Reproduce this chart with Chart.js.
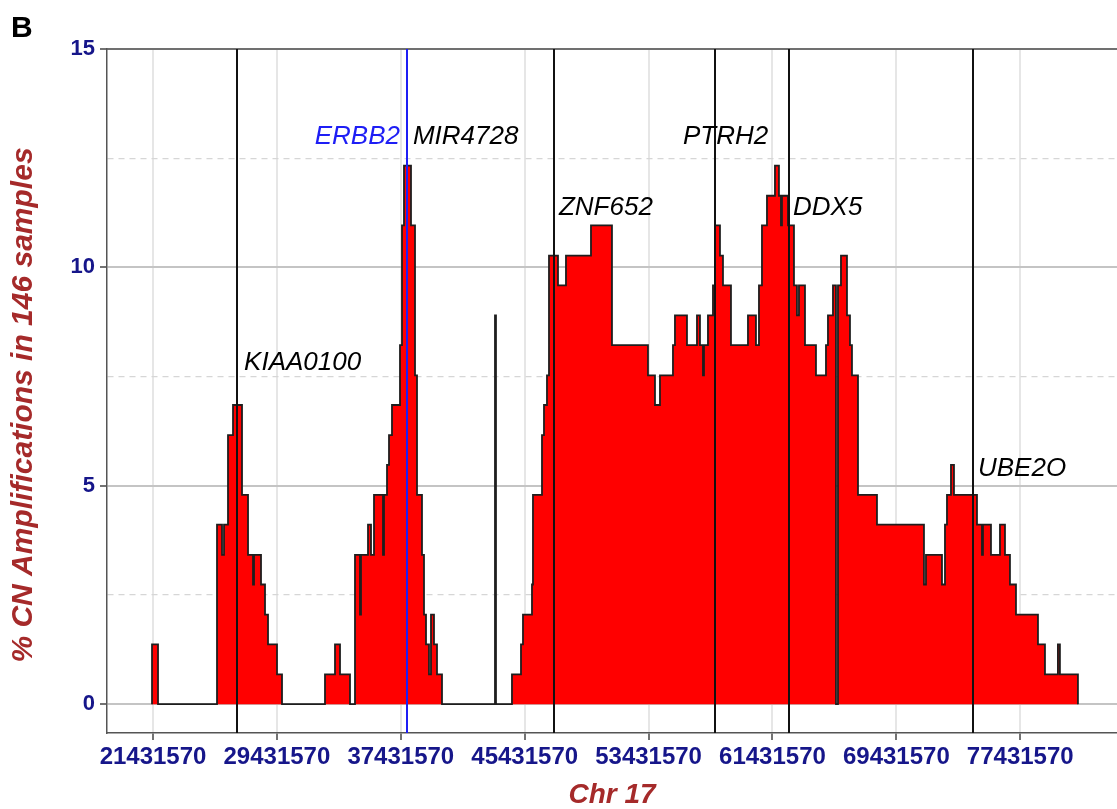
<!DOCTYPE html>
<html>
<head>
<meta charset="utf-8">
<script src="https://cdn.jsdelivr.net/npm/chart.js@4.4.0/dist/chart.umd.min.js"></script>
<style>
  html, body { margin: 0; padding: 0; background: #fff; }
</style>
</head>
<body>
<canvas id="cnChart" width="1117" height="809"></canvas>
<script>
// segment start positions on chr17 (bp); each value holds until the next position
var positions = [
  21367000, 21367000, 21754000,
  25564000, 25887000, 26016000, 26274000, 26597000, 27178000, 27566000, 27888000, 27953000,
  28405000, 28663000, 28857000, 29438000, 29761000,
  32537000, 33183000, 33506000, 34151000,
  34474000, 34797000, 34862000, 35314000, 35508000, 35701000, 36282000, 36347000, 36541000,
  36670000, 36863000, 37380000, 37509000, 37638000, 38090000, 38349000, 38478000, 38800000,
  38930000, 39059000, 39252000, 39381000, 39575000, 39769000, 40092000,
  43514000, 43578000,
  44611000, 45193000, 45322000, 45903000, 45967000, 46549000, 46678000, 46871000, 47001000,
  47582000, 48098000, 49713000, 51068000, 53393000, 53845000, 54168000, 55007000, 55136000,
  55911000, 56557000, 56750000, 56944000, 57009000, 57267000, 57590000, 57719000, 58042000,
  58236000, 58752000, 59850000, 60366000, 60560000, 60754000, 61077000, 61593000, 61851000,
  61980000, 62045000, 62432000, 62820000, 63014000, 63143000, 63531000, 64241000, 64887000,
  65016000, 65339000, 65533000, 65662000, 65856000, 66243000, 66437000, 66566000, 66954000,
  68180000, 71215000, 71345000, 72378000, 72572000, 72701000, 72959000, 73153000, 74638000,
  74960000, 75025000, 75542000, 76123000, 76446000, 76768000, 77156000, 78576000, 79028000,
  79865000, 79994000, 81157000
];
// % of 146 samples with amplification
var amplified = [
  0, 1.37, 0,
  4.11, 3.42, 4.11, 6.16, 6.85, 4.79, 3.42, 2.74, 3.42,
  2.74, 2.05, 1.37, 0.68, 0,
  0.68, 1.37, 0.68, 0,
  3.42, 2.05, 3.42, 4.11, 3.42, 4.79, 3.42, 4.79, 5.48,
  6.16, 6.85, 8.22, 10.96, 12.33, 10.96, 7.53, 4.79, 3.42,
  2.05, 1.37, 0.68, 2.05, 1.37, 0.68, 0,
  8.90, 0,
  0.68, 1.37, 2.05, 2.74, 4.79, 6.16, 6.85, 7.53, 10.27,
  9.59, 10.27, 10.96, 8.22, 7.53, 6.85, 7.53, 8.22, 8.90,
  8.22, 8.90, 8.22, 7.53, 8.22, 8.90, 9.59, 10.96, 10.27,
  9.59, 8.22, 8.90, 8.22, 9.59, 10.96, 11.64, 12.33, 11.64,
  10.96, 11.64, 10.96, 9.59, 8.90, 9.59, 8.22, 7.53, 8.22,
  8.90, 9.59, 0, 9.59, 10.27, 8.90, 8.22, 7.53, 4.79,
  4.11, 2.74, 3.42, 2.74, 4.11, 4.79, 5.48, 4.79, 4.11,
  3.42, 4.11, 3.42, 4.11, 3.42, 2.74, 2.05, 1.37, 0.68,
  1.37, 0.68, 0
];
var xTicks = [21431570, 29431570, 37431570, 45431570, 53431570, 61431570, 69431570, 77431570];
var yTicks = [0, 2.5, 5, 7.5, 10, 12.5, 15];

var geneNames = ["KIAA0100", "ERBB2", "MIR4728", "ZNF652", "PTRH2", "DDX5", "UBE2O"];
var genePos = [26860000, 37830000, 37830000, 47320000, 57720000, 62500000, 74380000];
var geneLabelY = [7.81, 12.98, 12.98, 11.36, 12.98, 11.36, 5.40];

var FONT = '"Liberation Sans", Arial, Helvetica, sans-serif';

var geneLines = {
  id: 'geneLines',
  afterDatasetsDraw: function (chart, args, opts) {
    var ctx = chart.ctx, xs = chart.scales.x, ys = chart.scales.y, area = chart.chartArea;
    ctx.save();
    ctx.strokeStyle = opts.frameColor;
    ctx.lineWidth = 1.5;
    ctx.beginPath();
    ctx.moveTo(area.left, area.top);
    ctx.lineTo(area.right, area.top);
    ctx.stroke();

    // black lines first, highlighted ones on top
    [false, true].forEach(function (hl) {
      geneNames.forEach(function (name, i) {
        if (opts.noLine.indexOf(name) >= 0) return;
        if (!!opts.highlight[name] !== hl) return;
        var px = Math.round(xs.getPixelForValue(genePos[i]));
        ctx.strokeStyle = opts.highlight[name] || opts.lineColor;
        ctx.lineWidth = opts.lineWidth;
        ctx.beginPath();
        ctx.moveTo(px, area.top);
        ctx.lineTo(px, area.bottom);
        ctx.stroke();
      });
    });

    ctx.font = opts.font;
    ctx.textBaseline = 'middle';
    geneNames.forEach(function (name, i) {
      var px = xs.getPixelForValue(genePos[i]) + opts.labelShift[name];
      ctx.textAlign = opts.rightAlign.indexOf(name) >= 0 ? 'right' : 'left';
      ctx.fillStyle = opts.highlight[name] || '#000';
      ctx.fillText(name, px, ys.getPixelForValue(geneLabelY[i]));
    });
    ctx.restore();
  },
  afterDraw: function (chart, args, opts) {
    var ctx = chart.ctx;
    ctx.save();
    ctx.font = 'bold 30px ' + FONT;
    ctx.fillStyle = '#000';
    ctx.textAlign = 'left';
    ctx.textBaseline = 'top';
    ctx.fillText(opts.panel, 11, 14);

    // y axis title, centred a little below the panel middle as in the figure
    ctx.translate(24, 405);
    ctx.rotate(-Math.PI / 2);
    ctx.font = 'bold italic 30px ' + FONT;
    ctx.fillStyle = '#a52a2a';
    ctx.textAlign = 'center';
    ctx.textBaseline = 'middle';
    ctx.fillText(opts.yTitle, 0, 0);
    ctx.restore();
  }
};

var ctx = document.getElementById('cnChart');
var cnChart = new Chart(ctx, {
  type: 'line',
  data: {
    datasets: [{
      data: positions.map(function (p, i) { return { x: p, y: amplified[i] }; }),
      stepped: true,
      fill: 'origin',
      backgroundColor: '#ff0000',
      borderColor: '#1e1e1e',
      borderWidth: 1.8,
      pointRadius: 0,
      tension: 0
    }]
  },
  options: {
    responsive: false,
    animation: false,
    devicePixelRatio: 1,
    layout: { padding: { top: 49, right: 0, bottom: 0, left: 0 } },
    plugins: {
      legend: { display: false },
      tooltip: { enabled: false },
      geneLines: {
        frameColor: '#555',
        lineColor: '#111',
        lineWidth: 2,
        highlight: { ERBB2: '#1e1ef5' },
        noLine: ['MIR4728'],
        rightAlign: ['ERBB2'],
        labelShift: { KIAA0100: 7, ERBB2: -7, MIR4728: 6, ZNF652: 5, PTRH2: -32, DDX5: 4, UBE2O: 5 },
        font: 'italic 26px ' + FONT,
        panel: 'B',
        yTitle: '% CN Amplifications in 146 samples'
      }
    },
    scales: {
      x: {
        type: 'linear',
        min: 18460000,
        max: 83680000,
        afterBuildTicks: function (s) { s.ticks = xTicks.map(function (v) { return { value: v }; }); },
        afterFit: function (s) { s.height = 76; },
        ticks: {
          autoSkip: false,
          maxRotation: 0,
          padding: 3,
          color: '#16168a',
          font: { family: FONT, size: 24, weight: 'bold' },
          callback: function (v) { return String(v); }
        },
        grid: { color: '#e6e6e6', lineWidth: 2, tickColor: '#444', tickLength: 7, tickWidth: 1.5 },
        border: { color: '#555', width: 1.5 },
        title: {
          display: true,
          text: 'Chr 17',
          color: '#a52a2a',
          font: { family: FONT, size: 28, weight: 'bold', style: 'italic', lineHeight: 1 },
          padding: { top: 0, bottom: 0 }
        }
      },
      y: {
        min: -0.66,
        max: 15,
        afterBuildTicks: function (s) { s.ticks = yTicks.map(function (v) { return { value: v }; }); },
        afterFit: function (s) { s.width = 107; },
        ticks: {
          padding: 5,
          color: '#16168a',
          font: { family: FONT, size: 22, weight: 'bold' },
          callback: function (v) { return v % 5 === 0 ? String(v) : ''; }
        },
        grid: {
          color: function (c) { return c.tick && c.tick.value % 5 !== 0 ? '#d6d6d6' : '#c4c4c4'; },
          lineWidth: function (c) { return c.tick && c.tick.value % 5 !== 0 ? 1.2 : 2; },
          tickColor: function (c) { return c.tick && c.tick.value % 5 !== 0 ? 'rgba(0,0,0,0)' : '#444'; },
          tickLength: 7,
          tickWidth: 1.5
        },
        border: {
          color: '#555',
          width: 1.5,
          dash: function (c) { return c.tick && c.tick.value % 5 !== 0 ? [6, 5] : []; }
        }
      }
    }
  },
  plugins: [geneLines]
});
</script>
</body>
</html>
